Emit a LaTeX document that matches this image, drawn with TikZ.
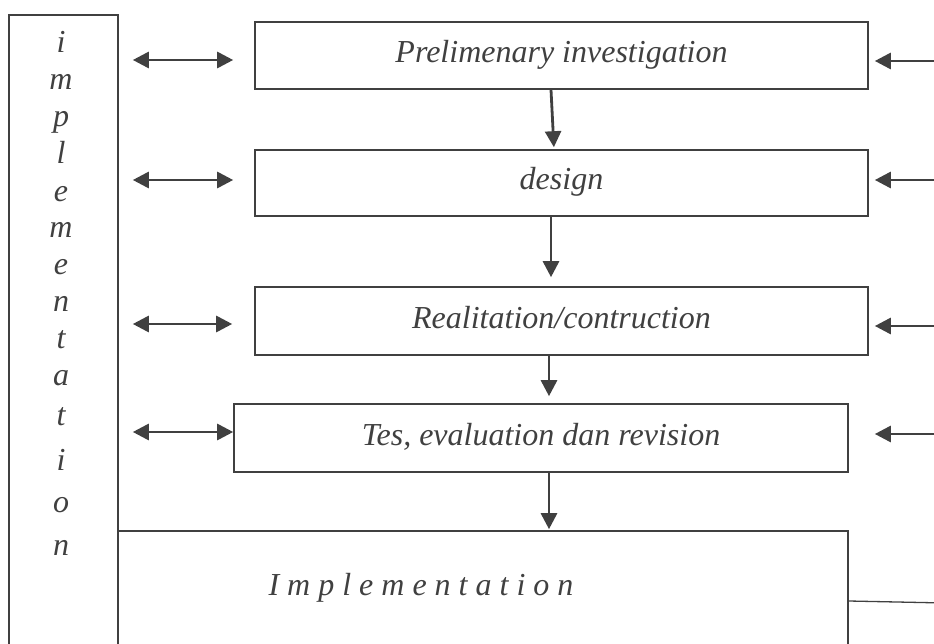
\documentclass[tikz,border=0pt]{standalone}
\usepackage{fontspec}
\setmainfont{Liberation Serif}
\usetikzlibrary{arrows.meta}
\definecolor{ink}{RGB}{64,64,64}
\tikzset{
  stage/.style = {draw=ink, line width=1.6pt, inner sep=0pt, minimum height=67pt, text height=22pt, text depth=8pt},
  frame/.style = {draw=ink, line width=1.6pt, inner sep=0pt},
  flow/.style = {draw=ink, line width=2.8pt, -{Triangle[length=16pt,width=16pt]}},
  twoway/.style = {flow, {Triangle[length=16pt,width=16pt]}-{Triangle[length=16pt,width=16pt]}}
}
\begin{document}
\begin{tikzpicture}[x=1pt, y=-1pt, font=\fontsize{32}{38}\selectfont\itshape, text=ink]
  \useasboundingbox (0,0) rectangle (934,644);
  \clip (0,0) rectangle (934,644);
  % boxes
  \node [frame, minimum width=109pt, minimum height=705pt] (side) at (63.5,367.5) {};
  \node [frame, minimum width=730pt, minimum height=189pt] (impl) at (483,625.5) {};
  \node [anchor=base west] (impltext) at (265,595) {I m p l e m e n t a t i o n};
  \node [stage, minimum width=613pt] (prelim) at (561.5,55.5) {Prelimenary investigation};
  \node [stage, minimum width=613pt, minimum height=66pt] (design) at (561.5,183) {design};
  \node [stage, minimum width=613pt, minimum height=68pt] (real) at (561.5,321) {Realitation/contruction};
  \node [stage, minimum width=614pt, minimum height=68pt] (tes) at (541,438) {Tes, evaluation dan revision};
  % vertical word
  \foreach \c/\y [count=\k] in {i/53,m/90,p/127,l/164,e/202,m/238,e/275,n/312,t/348,a/385,t/425,i/470,o/512,n/555}
    \node [anchor=base] (letter\k) at (61,\y) {\c};
  % arrows down
  \draw [flow, shorten >=2pt] (prelim.south -| 551,0) -- (design.north -| 554,0);
  \draw [flow, shorten >=9pt] (design.south -| 551,0) -- (real.north -| 551,0);
  \draw [flow, shorten >=7pt] (real.south -| 549,0) -- (tes.north -| 549,0);
  \draw [flow, shorten >=1pt] (tes.south -| 549,0) -- (impl.north -| 549,0);
  % arrows left
  \foreach \b/\d/\e in {prelim/4.5/21, design/-3/21, real/3/22, tes/-6/0} {
    \path (side.east |- \b.west) ++(0,\d) coordinate (l\b);
    \draw [twoway, shorten <=14pt, shorten >=\e pt] (l\b) -- (l\b -| \b.west);
  }
  % arrows right
  \foreach \b/\d/\e in {prelim/5.5/6, design/-3/6, real/5/6, tes/-4/26} {
    \path (\b.east) ++(0,\d) coordinate (r\b);
    \coordinate (in\b) at (r\b -| 945,0);
    \draw [flow, shorten >=\e pt] (in\b) -- (r\b);
  }
  \coordinate (fb) at (945,603);
  \draw [ink, line width=1.3pt] (impl.east |- 0,601) -- (fb);
\end{tikzpicture}
\end{document}
